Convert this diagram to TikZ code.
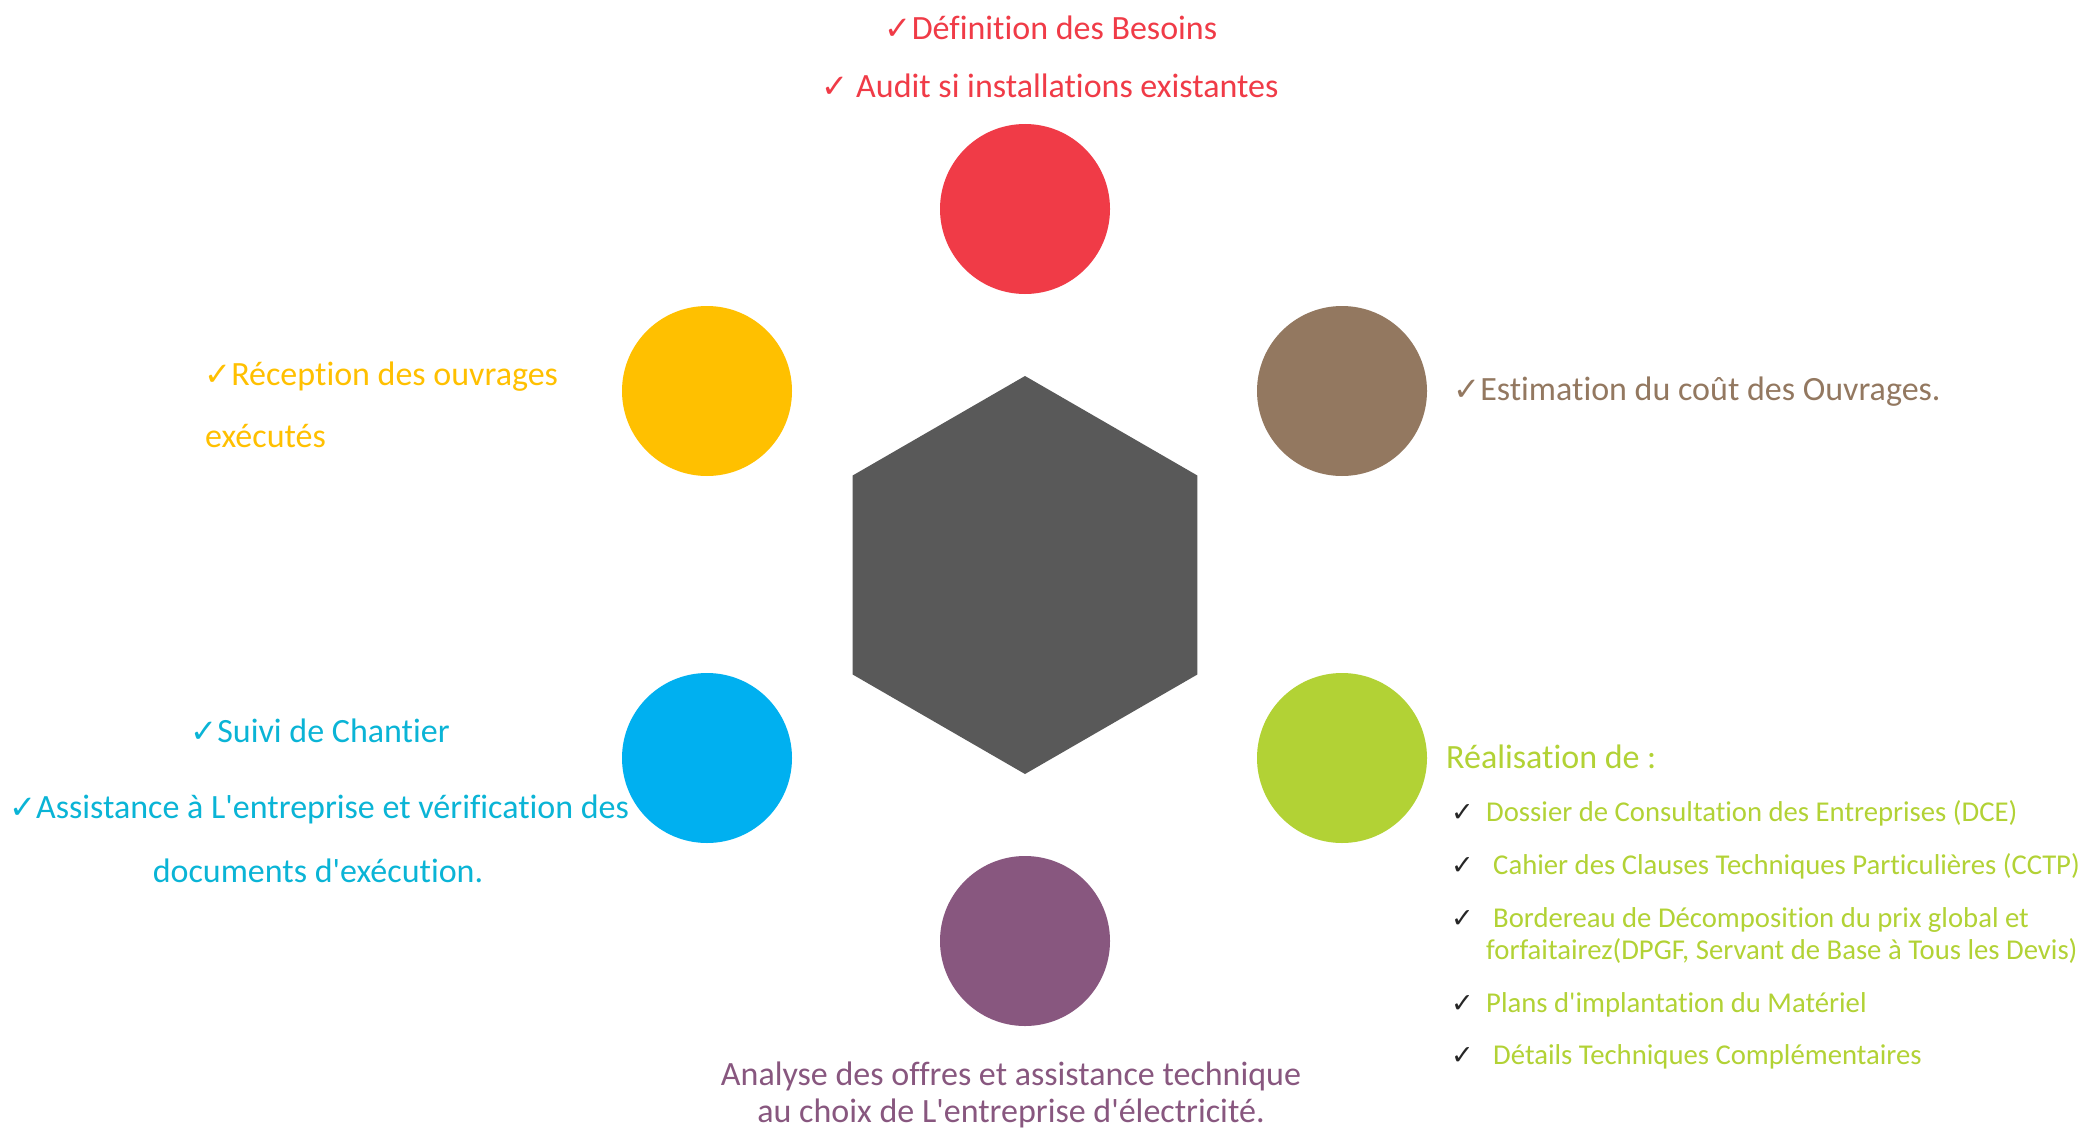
\documentclass[tikz,border=0pt]{standalone}
\usepackage{fontspec}
\usepackage{graphicx}
\newfontfamily\calib[Ligatures=NoCommon]{Carlito}
\newfontfamily\chkfont{DejaVu Sans}
\usetikzlibrary{shapes.geometric,backgrounds}
\definecolor{cred}{HTML}{F03B47}
\definecolor{cbrown}{HTML}{937860}
\definecolor{cyellow}{HTML}{FFC000}
\definecolor{cblue}{HTML}{00B0F0}
\definecolor{cbluetxt}{HTML}{0AB4D6}
\definecolor{cgreen}{HTML}{B2D235}
\definecolor{cpurple}{HTML}{88577F}
\definecolor{chex}{HTML}{595959}
\definecolor{cline}{HTML}{8C8C8C}
\definecolor{cblack}{HTML}{262626}
\newcommand{\ck}{{\chkfont\scalebox{0.95}{✓}}}
\tikzset{
  bubble/.style={circle, minimum size=170pt, inner sep=0pt, fill=#1},
  link/.style={draw=cline, line width=1.3pt},
  bigtxt/.style={inner sep=0pt, font=\calib\fontsize{34pt}{40pt}\selectfont},
  itemtxt/.style={inner sep=0pt, text=cgreen, anchor=base west, font=\calib\fontsize{28.7pt}{34pt}\selectfont},
  itemchk/.style={inner sep=0pt, text=cblack, anchor=base west, font=\chkfont\fontsize{27pt}{32pt}\selectfont},
}
\begin{document}
\begin{tikzpicture}[x=1pt,y=-1pt]
\useasboundingbox[fill=white] (0,0) rectangle (2084,1129);
\node[regular polygon, regular polygon sides=6, shape border rotate=30, minimum size=398pt, inner sep=0pt, fill=chex] (hex) at (1025,575) {};
\node[bubble=cred] (c1) at (1025,209) {};
\node[bubble=cbrown] (c2) at (1342,391) {};
\node[bubble=cgreen] (c3) at (1342,758) {};
\node[bubble=cpurple] (c4) at (1025,941) {};
\node[bubble=cblue] (c5) at (707,758) {};
\node[bubble=cyellow] (c6) at (707,391) {};
\begin{scope}[on background layer]
\foreach \c in {c1,c2,c3,c4,c5,c6} \draw[link] (hex.center) -- (\c);
\end{scope}
% red
\node[bigtxt, text=cred, anchor=base] (r1) at (1051,40) {\ck Définition des Besoins};
\node[bigtxt, text=cred, anchor=base] (r2) at (1050,98) {\ck\ Audit si installations existantes};
% yellow
\node[bigtxt, text=cyellow, anchor=base west] (y1) at (204,385) {\ck Réception des ouvrages};
\node[bigtxt, text=cyellow, anchor=base west] (y2) at (205,447) {exécutés};
% brown
\node[bigtxt, text=cbrown, anchor=base west] (b1) at (1453,400) {\ck Estimation du coût des Ouvrages.};
% blue
\node[bigtxt, text=cbluetxt, anchor=base] (bl1) at (320,742) {\ck Suivi de Chantier};
\node[bigtxt, text=cbluetxt, anchor=base] (bl2) at (319,818) {\ck Assistance à L'entreprise et vérification des};
\node[bigtxt, text=cbluetxt, anchor=base] (bl3) at (318,882) {documents d'exécution.};
% green
\node[bigtxt, text=cgreen, anchor=base west] (g0) at (1446,768) {Réalisation de :};
\node[itemchk] (k1) at (1451,821) {✓};
\node[itemtxt] (g1) at (1486,821) {Dossier de Consultation des Entreprises (DCE)};
\node[itemchk] (k2) at (1451,874) {✓};
\node[itemtxt] (g2) at (1493,874) {Cahier des Clauses Techniques Particulières (CCTP)};
\node[itemchk] (k3) at (1451,927) {✓};
\node[itemtxt] (g3) at (1493,927) {Bordereau de Décomposition du prix global et};
\node[itemtxt] (g3b) at (1486,959) {forfaitairez(DPGF, Servant de Base à Tous les Devis)};
\node[itemchk] (k4) at (1451,1012) {✓};
\node[itemtxt] (g4) at (1486,1012) {Plans d'implantation du Matériel};
\node[itemchk] (k5) at (1451,1064) {✓};
\node[itemtxt] (g5) at (1493,1064) {Détails Techniques Complémentaires};
% purple
\node[bigtxt, text=cpurple, anchor=base] (p1) at (1011,1085) {Analyse des offres et assistance technique};
\node[bigtxt, text=cpurple, anchor=base] (p2) at (1011,1122) {au choix de L'entreprise d'électricité.};
\end{tikzpicture}
\end{document}
